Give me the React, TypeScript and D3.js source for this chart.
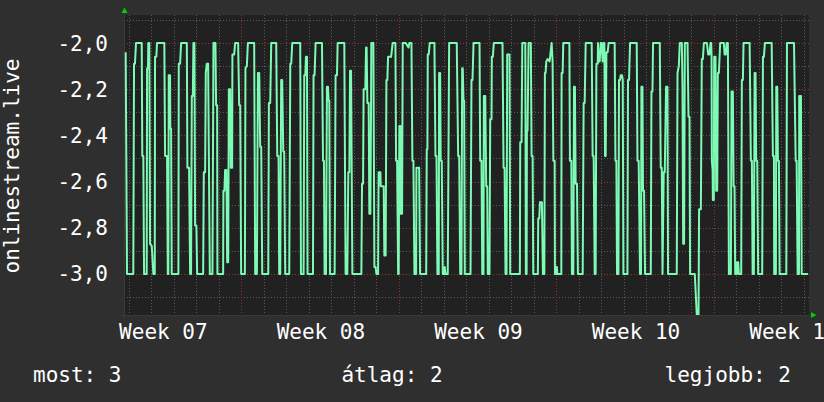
import React from "react";
import * as d3 from "d3";

const W = 824;
const H = 402;
const plot = { left: 124, right: 809, top: 15, bottom: 315 };

// time in hours from the left edge of the graph
const timeDomain: [number, number] = [0, 730.4];
const valueDomain: [number, number] = [-3.178, -1.879];

const yMajorTicks = [-3.0, -2.8, -2.6, -2.4, -2.2, -2.0];
const yMinorTicks = [-3.1, -2.9, -2.7, -2.5, -2.3, -2.1, -1.9];
const weekStartHours = [124.9, 292.9, 460.9, 628.9];
const weekLabelHours = [40.9, 208.9, 376.9, 544.9, 712.9];
const weekLabels = ["Week 07", "Week 08", "Week 09", "Week 10", "Week 11"];
const dayGridStart = 4.9;
const dayGridStep = 24;

const yAxisTitle = "onlinestream.live";
const legendLabels = ["most", "átlag", "legjobb"];
const legendValues = [3, 2, 2];

// [hour, value]
const series: [number, number][] = [
  [1.8, -2.04], [3.2, -3.0], [9.9, -3.0], [10.7, -2.09], [11.7, -2.09], [12.8, -2.0],
  [18.9, -2.0], [19.5, -2.49], [20.6, -2.49], [21.4, -3.0], [24.2, -3.0], [24.6, -2.11],
  [25.6, -2.11], [25.9, -2.0], [27.0, -2.0], [27.8, -2.87], [29.6, -2.88], [31.3, -3.0],
  [32.8, -3.0], [33.1, -2.06], [34.5, -2.06], [35.2, -2.0], [43.0, -2.0], [43.8, -2.49],
  [45.9, -2.49], [46.7, -3.0], [47.3, -3.0], [47.7, -2.14], [49.1, -2.14], [49.4, -2.37],
  [50.2, -2.37], [50.9, -3.0], [58.0, -3.0], [58.4, -2.09], [59.8, -2.09], [60.9, -2.0],
  [67.0, -2.0], [67.6, -2.54], [69.4, -2.54], [70.5, -3.0], [71.5, -3.0], [72.3, -2.23],
  [73.4, -2.23], [74.0, -2.0], [75.1, -2.0], [75.8, -2.79], [77.2, -2.79], [78.0, -3.0],
  [84.4, -3.0], [85.1, -2.56], [86.5, -2.56], [87.2, -2.13], [88.3, -2.09], [89.7, -2.09],
  [91.5, -3.0], [94.3, -3.0], [95.4, -2.0], [97.5, -2.0], [98.2, -2.27], [99.3, -2.27],
  [99.6, -3.0],
  [105.7, -3.0], [106.0, -2.64], [107.1, -2.64], [107.8, -2.55], [109.2, -2.55], [110.0, -2.95],
  [111.1, -2.95], [111.8, -2.2], [113.2, -2.2], [113.9, -2.54], [115.3, -2.54], [115.6, -2.05],
  [117.5, -2.05], [118.5, -2.0], [121.7, -2.0], [122.8, -2.27], [123.9, -2.27], [124.9, -3.0],
  [128.9, -3.0], [129.5, -2.11], [131.0, -2.1], [132.1, -2.0], [138.8, -2.0], [139.9, -3.0],
  [141.7, -3.0], [142.8, -2.13], [144.2, -2.13], [145.2, -2.45], [146.3, -2.45], [147.4, -3.0],
  [153.8, -3.0], [154.5, -2.26], [155.9, -2.26], [157.0, -2.0], [162.3, -2.0], [163.4, -2.49],
  [164.8, -2.49], [165.5, -3.0], [166.6, -3.0], [167.6, -2.16], [168.7, -2.16], [169.8, -2.47],
  [170.8, -2.47], [171.9, -3.0], [176.2, -3.0], [177.3, -2.09], [178.3, -2.09], [179.4, -2.0],
  [187.9, -2.0], [188.7, -3.0], [191.5, -3.0], [192.2, -2.14], [193.3, -2.14], [194.0, -2.06],
  [195.1, -2.06], [195.7, -3.0], [201.5, -3.0], [202.1, -2.14], [203.2, -2.14], [204.3, -2.0],
  [211.1, -2.0], [212.2, -2.51], [213.2, -2.51], [213.9, -3.0], [215.4, -3.0], [216.4, -2.19],
  [217.5, -2.19], [218.2, -2.25], [218.9, -2.25], [219.6, -3.0], [224.6, -3.0], [225.6, -2.14],
  [227.1, -2.14], [227.8, -2.0], [234.9, -2.0], [236.3, -3.0], [238.1, -3.0], [239.2, -2.56],
  [240.3, -2.56], [241.0, -2.12], [242.1, -2.12], [243.5, -3.0], [253.1, -3.0], [253.8, -2.61],
  [254.9, -2.61], [255.5, -2.2], [257.3, -2.2], [258.1, -2.02], [258.7, -2.02], [259.5, -2.26],
  [260.9, -2.26], [261.6, -2.74], [262.7, -2.74], [263.4, -2.3], [263.7, -2.0], [265.9, -2.0],
  [267.0, -2.97], [268.3, -2.97], [269.1, -3.0], [270.9, -3.0], [271.5, -2.56], [273.4, -2.56],
  [273.7, -2.62], [276.9, -2.62], [277.6, -2.92], [279.0, -2.92], [279.8, -2.16], [280.8, -2.16],
  [281.6, -2.06], [284.8, -2.06], [286.5, -2.0], [289.4, -2.0], [290.1, -2.51], [291.2, -2.51],
  [292.3, -3.0], [292.9, -3.0], [293.6, -2.36], [294.7, -2.36], [295.0, -2.74], [296.5, -2.74],
  [297.2, -2.0], [300.4, -2.0], [303.3, -2.02], [304.3, -2.0], [306.5, -2.0], [307.5, -2.51],
  [308.6, -2.51], [309.7, -3.0],
  [311.5, -3.0], [311.8, -2.54], [314.7, -2.54], [315.7, -3.0], [322.2, -3.0], [322.8, -2.46],
  [323.5, -2.46], [323.9, -2.05], [324.9, -2.05], [326.0, -2.0], [331.0, -2.0], [332.1, -2.49],
  [333.2, -2.49], [334.2, -3.0], [335.6, -3.0], [336.0, -2.13], [337.1, -2.13], [337.7, -2.51],
  [338.8, -2.51], [339.9, -3.0], [341.7, -3.0], [342.0, -2.97], [342.8, -3.0], [345.2, -3.0],
  [346.7, -2.0], [354.8, -2.0], [356.3, -2.49], [357.4, -2.49], [358.5, -3.0], [359.8, -3.0],
  [360.6, -2.11], [361.2, -2.11], [362.0, -2.25], [362.7, -2.25], [363.4, -3.0], [369.5, -3.0],
  [370.5, -2.16], [371.6, -2.16], [372.7, -2.0], [379.1, -2.0], [379.8, -2.51], [381.2, -2.51],
  [382.0, -3.0], [383.3, -3.0], [383.7, -2.23], [385.2, -2.23], [386.2, -2.62], [387.3, -2.62],
  [387.9, -3.0], [389.7, -3.0], [390.5, -2.33], [391.9, -2.33], [392.2, -2.06], [393.3, -2.06],
  [394.3, -2.0], [403.6, -2.0], [404.7, -2.54], [405.8, -2.54], [406.8, -3.0], [407.9, -3.0],
  [408.6, -2.05], [411.1, -2.05], [411.8, -3.0], [416.4, -3.0],
  [422.1, -3.0], [422.5, -2.43], [423.9, -2.43], [424.7, -2.0], [427.9, -2.0], [428.5, -3.0],
  [429.3, -3.0], [429.6, -2.38], [430.3, -2.38], [431.4, -2.0], [433.8, -2.0], [434.6, -2.49],
  [435.7, -2.49], [436.4, -3.0], [441.3, -3.0], [441.7, -2.76], [442.8, -2.76], [443.5, -2.69],
  [445.6, -2.69], [446.7, -3.0], [448.2, -3.0], [448.8, -2.13], [449.5, -2.13], [450.3, -2.08],
  [451.7, -2.07], [453.8, -2.08], [456.0, -2.0], [457.0, -2.08], [457.8, -2.51], [459.2, -2.51],
  [459.5, -3.0], [460.2, -3.0], [460.5, -2.97], [461.6, -2.97], [462.0, -3.0], [466.3, -3.0],
  [466.6, -2.13], [467.7, -2.13], [468.4, -2.0], [474.9, -2.0], [475.5, -2.51], [477.0, -2.51],
  [477.6, -3.0], [479.1, -3.0], [479.8, -2.19], [480.8, -2.19], [481.6, -2.61], [483.0, -2.61],
  [484.0, -3.0], [489.1, -3.0], [490.1, -2.26], [491.2, -2.26], [492.3, -2.0], [498.7, -2.0],
  [499.7, -2.49], [500.8, -2.49], [501.9, -3.0], [502.9, -3.0], [503.7, -2.09], [505.1, -2.09],
  [505.4, -2.0], [506.1, -2.08], [507.2, -2.08], [508.3, -2.0], [509.3, -2.0], [510.4, -2.08],
  [511.5, -2.0], [512.2, -2.0], [512.9, -2.49], [513.6, -2.49], [514.4, -2.04], [515.7, -2.04],
  [516.8, -2.0], [521.1, -2.0],
  [523.2, -2.0], [524.0, -2.51], [525.0, -2.51], [525.7, -3.0], [527.2, -3.0], [527.8, -2.16],
  [528.9, -2.16], [529.6, -2.14], [531.0, -2.14], [531.8, -2.16], [532.5, -3.0], [536.8, -3.0],
  [537.4, -2.16], [538.5, -2.16], [539.6, -2.0], [546.7, -2.0], [547.5, -2.51], [548.8, -2.51],
  [550.2, -3.0], [551.3, -3.0], [551.7, -2.19], [552.8, -2.19], [553.4, -2.64], [554.5, -2.64],
  [555.6, -3.0], [561.7, -3.0], [562.4, -2.21], [563.5, -2.21], [564.1, -2.0], [571.3, -2.0],
  [572.3, -2.54], [573.4, -2.54], [574.2, -3.0], [575.5, -2.56], [576.6, -2.56], [578.0, -2.19],
  [579.5, -2.19], [580.1, -3.0], [589.4, -3.0], [590.2, -2.13], [591.6, -2.1], [592.6, -2.0],
  [594.8, -2.0], [595.5, -2.19], [596.2, -2.87], [597.2, -2.87], [598.0, -2.0], [600.9, -2.0],
  [601.9, -2.32], [603.0, -2.32], [603.6, -3.0], [608.6, -3.0], [610.8, -3.18], [612.6, -3.18],
  [613.2, -2.72], [615.1, -2.72], [616.1, -2.07], [617.2, -2.07], [618.3, -2.0], [621.5, -2.0],
  [622.9, -2.05], [624.3, -2.05], [625.4, -2.0],
  [626.1, -2.0], [626.5, -2.05], [626.8, -2.51], [627.6, -2.55], [627.9, -2.68], [628.9, -2.68],
  [629.3, -2.06], [630.7, -2.06], [631.4, -2.64], [632.5, -2.64], [633.2, -2.13], [634.3, -2.13],
  [635.7, -2.0], [639.6, -2.0], [640.4, -2.05], [641.7, -2.05], [642.5, -2.0], [643.9, -2.0],
  [645.0, -3.0], [647.1, -3.0], [647.8, -2.21], [649.2, -2.21], [650.0, -2.62], [651.0, -2.62],
  [651.7, -3.0], [653.5, -3.0], [653.8, -2.95], [654.9, -2.95], [655.6, -3.0], [658.1, -3.0],
  [658.8, -2.16], [659.9, -2.16], [660.6, -2.0], [667.1, -2.0], [668.4, -2.51], [669.5, -2.51],
  [670.3, -3.0], [671.6, -3.0], [672.4, -2.13], [673.4, -2.13], [674.1, -2.51], [675.2, -2.51],
  [676.2, -3.0], [680.5, -3.0], [681.3, -2.06], [682.3, -2.06], [683.4, -2.0], [690.6, -2.0],
  [691.9, -2.49], [693.0, -2.49], [693.3, -3.0], [695.1, -3.0], [695.5, -2.19], [696.5, -2.19],
  [697.3, -2.51], [698.3, -2.51], [699.1, -3.0], [706.2, -3.0], [706.9, -2.0], [714.4, -2.0],
  [716.2, -2.51], [717.2, -2.51], [718.3, -3.0], [719.7, -3.0], [720.0, -2.23], [721.8, -2.23],
  [722.6, -3.0], [729.3, -3.0],
];

const FONT = "'DejaVu Sans Mono', monospace";
const BG = "#2f2f2f";
const PLOT_BG = "#212121";
const LINE = "#7dfab4";
const MINOR = "#5a5a5a";
const MAJOR = "#883a3a";

export default function App() {
  const x = d3.scaleLinear().domain(timeDomain).range([plot.left, plot.right]);
  const y = d3.scaleLinear().domain(valueDomain).range([plot.bottom, plot.top]);
  const dayHours = d3.range(dayGridStart, timeDomain[1], dayGridStep).filter(
    (h) => !weekStartHours.some((w) => Math.abs(w - h) < 0.5)
  );
  const line = d3
    .line<[number, number]>()
    .x((d) => x(d[0]))
    .y((d) => y(d[1]));
  const fmt = (v: number) => v.toFixed(1).replace(".", ",");
  const legendX = [33, 392, 791];
  const legendAnchor = ["start", "middle", "end"];

  return (
    <svg width={W} height={H} style={{ position: "absolute", left: 0, top: 0, display: "block" }}>
      <rect x={0} y={0} width={W} height={H} fill={BG} />
      <rect x={plot.left} y={plot.top} width={plot.right - plot.left} height={plot.bottom - plot.top} fill={PLOT_BG} />
      <defs>
        <clipPath id="pc">
          <rect x={plot.left} y={plot.top - 1} width={plot.right - plot.left} height={plot.bottom - plot.top + 1} />
        </clipPath>
      </defs>
      {/* minor grid */}
      {yMinorTicks.map((v) => (
        <line key={"ym" + v} x1={plot.left} x2={plot.right} y1={Math.round(y(v)) + 0.5} y2={Math.round(y(v)) + 0.5}
          stroke={MINOR} strokeDasharray="1,2" clipPath="url(#pc)" />
      ))}
      {dayHours.map((h) => (
        <line key={"xm" + h} x1={Math.round(x(h)) + 0.5} x2={Math.round(x(h)) + 0.5} y1={plot.top} y2={plot.bottom + 3}
          stroke={MINOR} strokeDasharray="1,2" />
      ))}
      {/* major grid */}
      {yMajorTicks.map((v) => (
        <line key={"yM" + v} x1={plot.left} x2={plot.right} y1={Math.round(y(v)) + 0.5} y2={Math.round(y(v)) + 0.5}
          stroke={MAJOR} strokeDasharray="1,2" />
      ))}
      {weekStartHours.map((h) => (
        <line key={"xM" + h} x1={Math.round(x(h)) + 0.5} x2={Math.round(x(h)) + 0.5} y1={plot.top} y2={plot.bottom + 3}
          stroke={MAJOR} strokeDasharray="1,2" />
      ))}
      {/* axes */}
      <line x1={plot.left + 0.5} x2={plot.left + 0.5} y1={plot.bottom + 3} y2={plot.top - 4} stroke="#3a3a3a" />
      <line x1={plot.left - 3} x2={plot.right + 3} y1={plot.bottom + 0.5} y2={plot.bottom + 0.5} stroke="#3a3a3a" />
      <path d={line(series) || ""} fill="none" stroke={LINE} strokeWidth={2} strokeLinejoin="round" clipPath="url(#pc)" />
      {/* arrows */}
      <polygon points={`${plot.left - 2.5},${plot.top - 2} ${plot.left + 3.5},${plot.top - 2} ${plot.left + 0.5},${plot.top - 7.5}`} fill="#00cc00" />
      <polygon points={`${plot.right + 2},${plot.bottom - 3} ${plot.right + 2},${plot.bottom + 3} ${plot.right + 7.5},${plot.bottom}`} fill="#00cc00" />
      {/* y tick labels */}
      {yMajorTicks.map((v) => (
        <text key={"yl" + v} x={108} y={y(v) + 7.6} textAnchor="end" fill="#ffffff" fontFamily={FONT} fontSize={21}>
          {fmt(v)}
        </text>
      ))}
      {/* x labels */}
      {weekLabels.map((t, i) => (
        <text key={t} x={x(weekLabelHours[i]) + 1} y={339} textAnchor="middle" fill="#ffffff" fontFamily={FONT} fontSize={21}>
          {t}
        </text>
      ))}
      <text transform={`translate(19,166) rotate(-90)`} textAnchor="middle" fill="#ffffff" fontFamily={FONT} fontSize={21}>
        {yAxisTitle}
      </text>
      {legendLabels.map((l, i) => (
        <text key={l} x={legendX[i]} y={382} textAnchor={legendAnchor[i] as any} fill="#ffffff" fontFamily={FONT} fontSize={21}>
          {`${l}: ${legendValues[i]}`}
        </text>
      ))}
    </svg>
  );
}
